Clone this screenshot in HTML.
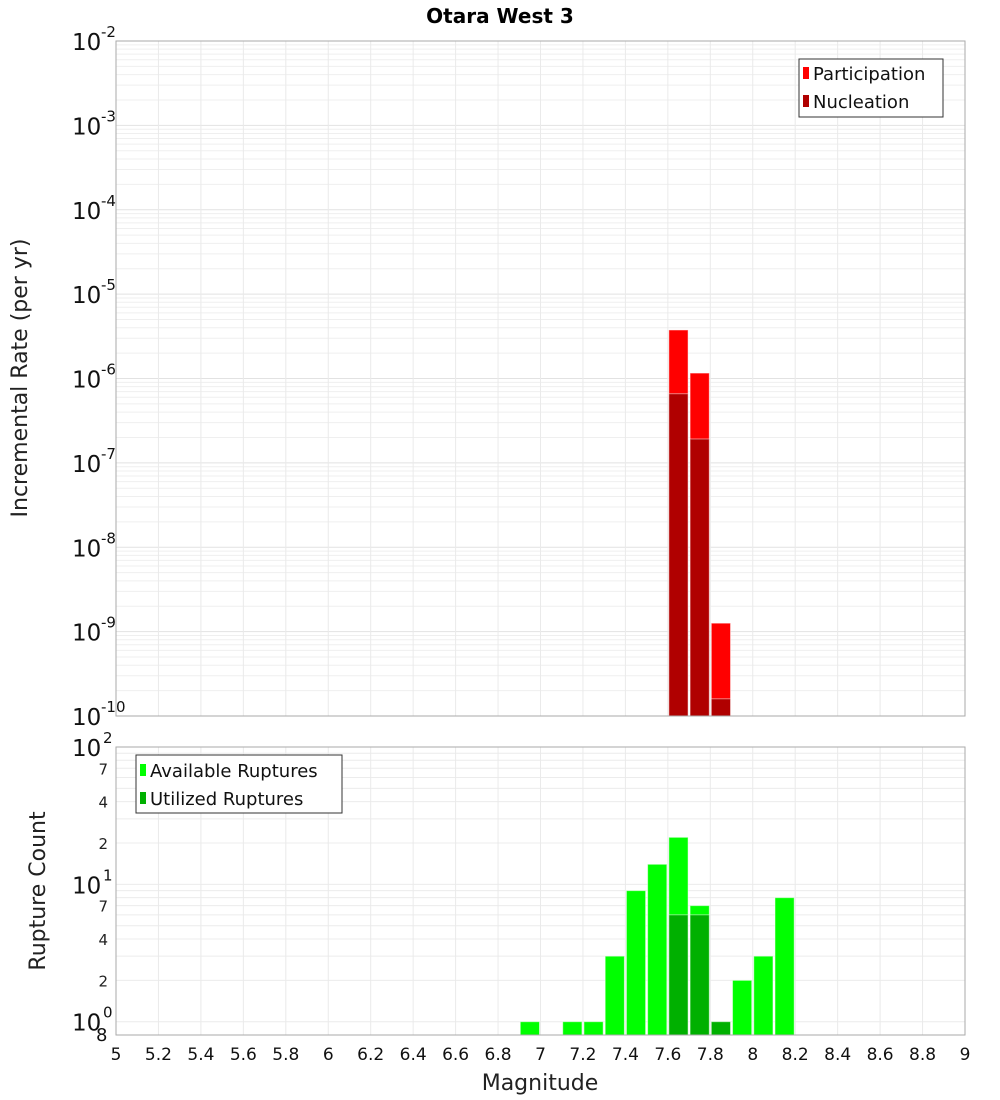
<!DOCTYPE html>
<html><head><meta charset="utf-8"><style>
body{margin:0;background:#fff;}
svg{display:block;font-family:"DejaVu Sans","Liberation Sans",sans-serif;}
</style></head><body>
<svg id="chart" width="1000" height="1100" viewBox="0 0 1000 1100">
<text x="500" y="23" text-anchor="middle" font-size="20" font-weight="bold">Otara West 3</text>
<g id="top"></g>
<g id="bot"></g>
<text transform="translate(27,378) rotate(-90)" text-anchor="middle" font-size="22" fill="#222">Incremental Rate (per yr)</text>
<text transform="translate(45,891) rotate(-90)" text-anchor="middle" font-size="22" fill="#222">Rupture Count</text>
<text x="540" y="1090" text-anchor="middle" font-size="22" fill="#222">Magnitude</text>
<g>
<rect x="799" y="59" width="144" height="58" fill="#fff" stroke="#333"/>
<rect x="803" y="67" width="6" height="12" fill="#ff0000"/>
<text x="813" y="80" font-size="18" fill="#111">Participation</text>
<rect x="803" y="95" width="6" height="12" fill="#b00000"/>
<text x="813" y="108" font-size="18" fill="#111">Nucleation</text>
</g>
<g>
<rect x="136" y="755" width="206" height="58" fill="#fff" stroke="#333"/>
<rect x="140" y="764" width="6" height="12" fill="#00ff00"/>
<text x="150" y="777" font-size="18" fill="#111">Available Ruptures</text>
<rect x="140" y="792" width="6" height="12" fill="#00b000"/>
<text x="150" y="805" font-size="18" fill="#111">Utilized Ruptures</text>
</g>
</svg>
<script>
const xTicks = [5,5.2,5.4,5.6,5.8,6,6.2,6.4,6.6,6.8,7,7.2,7.4,7.6,7.8,8,8.2,8.4,8.6,8.8,9];
const rateMags = [7.65,7.75,7.85];
const participation = [3.76e-6,1.16e-6,1.26e-9];
const nucleation = [6.6e-7,1.92e-7,1.6e-10];
const countMags = [6.95,7.15,7.25,7.35,7.45,7.55,7.65,7.75,7.85,7.95,8.05,8.15];
const available = [1,1,1,3,9,14,22,7,1,2,3,8];
const utilizedMags = [7.65,7.75,7.85];
const utilized = [6,6,1];
const topExps = [-2,-3,-4,-5,-6,-7,-8,-9,-10];
const botMinor = [2,4,7,20,40,70];

const NS='http://www.w3.org/2000/svg';
const X0=116,X1=965;
const xs=m=>X0+(m-5)/(9-5)*(X1-X0);
const T0=41,T1=716; const yt=v=>T0+(-2-Math.log10(v))/8*(T1-T0);
const B0=747,B1=1035,BMIN=0.8; const yb=v=>B0+(2-Math.log10(v))/(2-Math.log10(BMIN))*(B1-B0);
function el(p,tag,a,txt){const e=document.createElementNS(NS,tag);for(const k in a)e.setAttribute(k,a[k]);if(txt!==undefined)e.textContent=txt;p.appendChild(e);return e;}
const topG=document.getElementById('top'),botG=document.getElementById('bot');
for(let d=-10;d<-2;d++){for(let k=1;k<10;k++){const y=yt(k*Math.pow(10,d));const g=el(topG,'line',{x1:X0,x2:X1,y1:y,y2:y,stroke:k==1?'#e2e2e2':'#efefef','stroke-width':1});

}}
[1,10,100,2,3,4,5,6,7,8,9,20,30,40,50,60,70,80,90].forEach(v=>{const y=yb(v);const g=el(botG,'line',{x1:X0,x2:X1,y1:y,y2:y,stroke:'#ececec','stroke-width':1});

});
xTicks.forEach(m=>{const x=xs(m);
const a=el(topG,'line',{x1:x,x2:x,y1:T0,y2:T1,stroke:'#eaeaea'});


const b=el(botG,'line',{x1:x,x2:x,y1:B0,y2:B1,stroke:'#eaeaea'});


const t=el(botG,'text',{x:x,y:1060,'text-anchor':'middle','font-size':17,fill:'#111'},String(m));

});
function bar(p,m,v,yf,base,col,name){const x=xs(m-0.05)+1,w=xs(m+0.05)-xs(m-0.05)-2;const y=yf(v);const r=el(p,'rect',{x:x,y:y,width:w,height:base-y,fill:col,stroke:'rgba(255,255,255,0.5)','stroke-width':1});

}
rateMags.forEach((m,i)=>bar(topG,m,participation[i],yt,T1,'#ff0000','participation-bar'));
rateMags.forEach((m,i)=>bar(topG,m,nucleation[i],yt,T1,'#b00000','nucleation-bar'));
countMags.forEach((m,i)=>bar(botG,m,available[i],yb,B1,'#00ff00','available-bar'));
utilizedMags.forEach((m,i)=>bar(botG,m,utilized[i],yb,B1,'#00b000','utilized-bar'));
const f1=el(topG,'rect',{x:X0,y:T0,width:X1-X0,height:T1-T0,fill:'none',stroke:'#aaa'});


const f2=el(botG,'rect',{x:X0,y:B0,width:X1-X0,height:B1-B0,fill:'none',stroke:'#aaa'});


topExps.forEach(e=>{const y=yt(Math.pow(10,e));const t=el(topG,'text',{x:72,y:y+9,'font-size':23,fill:'#111'},'10');


const s=el(topG,'text',{x:101,y:y-4,'font-size':15,fill:'#111'},String(e));

});
[[100,'2'],[10,'1'],[1,'0']].forEach(([v,e])=>{const y=yb(v);const t=el(botG,'text',{x:72,y:y+9,'font-size':23,fill:'#111'},'10');


const s=el(botG,'text',{x:103,y:y-4,'font-size':15,fill:'#111'},e);

});
botMinor.forEach(v=>{const y=yb(v);const t=el(botG,'text',{x:108,y:y+6,'text-anchor':'end','font-size':15,fill:'#222'},String(v).charAt(0));

});
const t8=el(botG,'text',{x:96,y:1041,'font-size':18,fill:'#111'},'8');


</script>
</body></html>
